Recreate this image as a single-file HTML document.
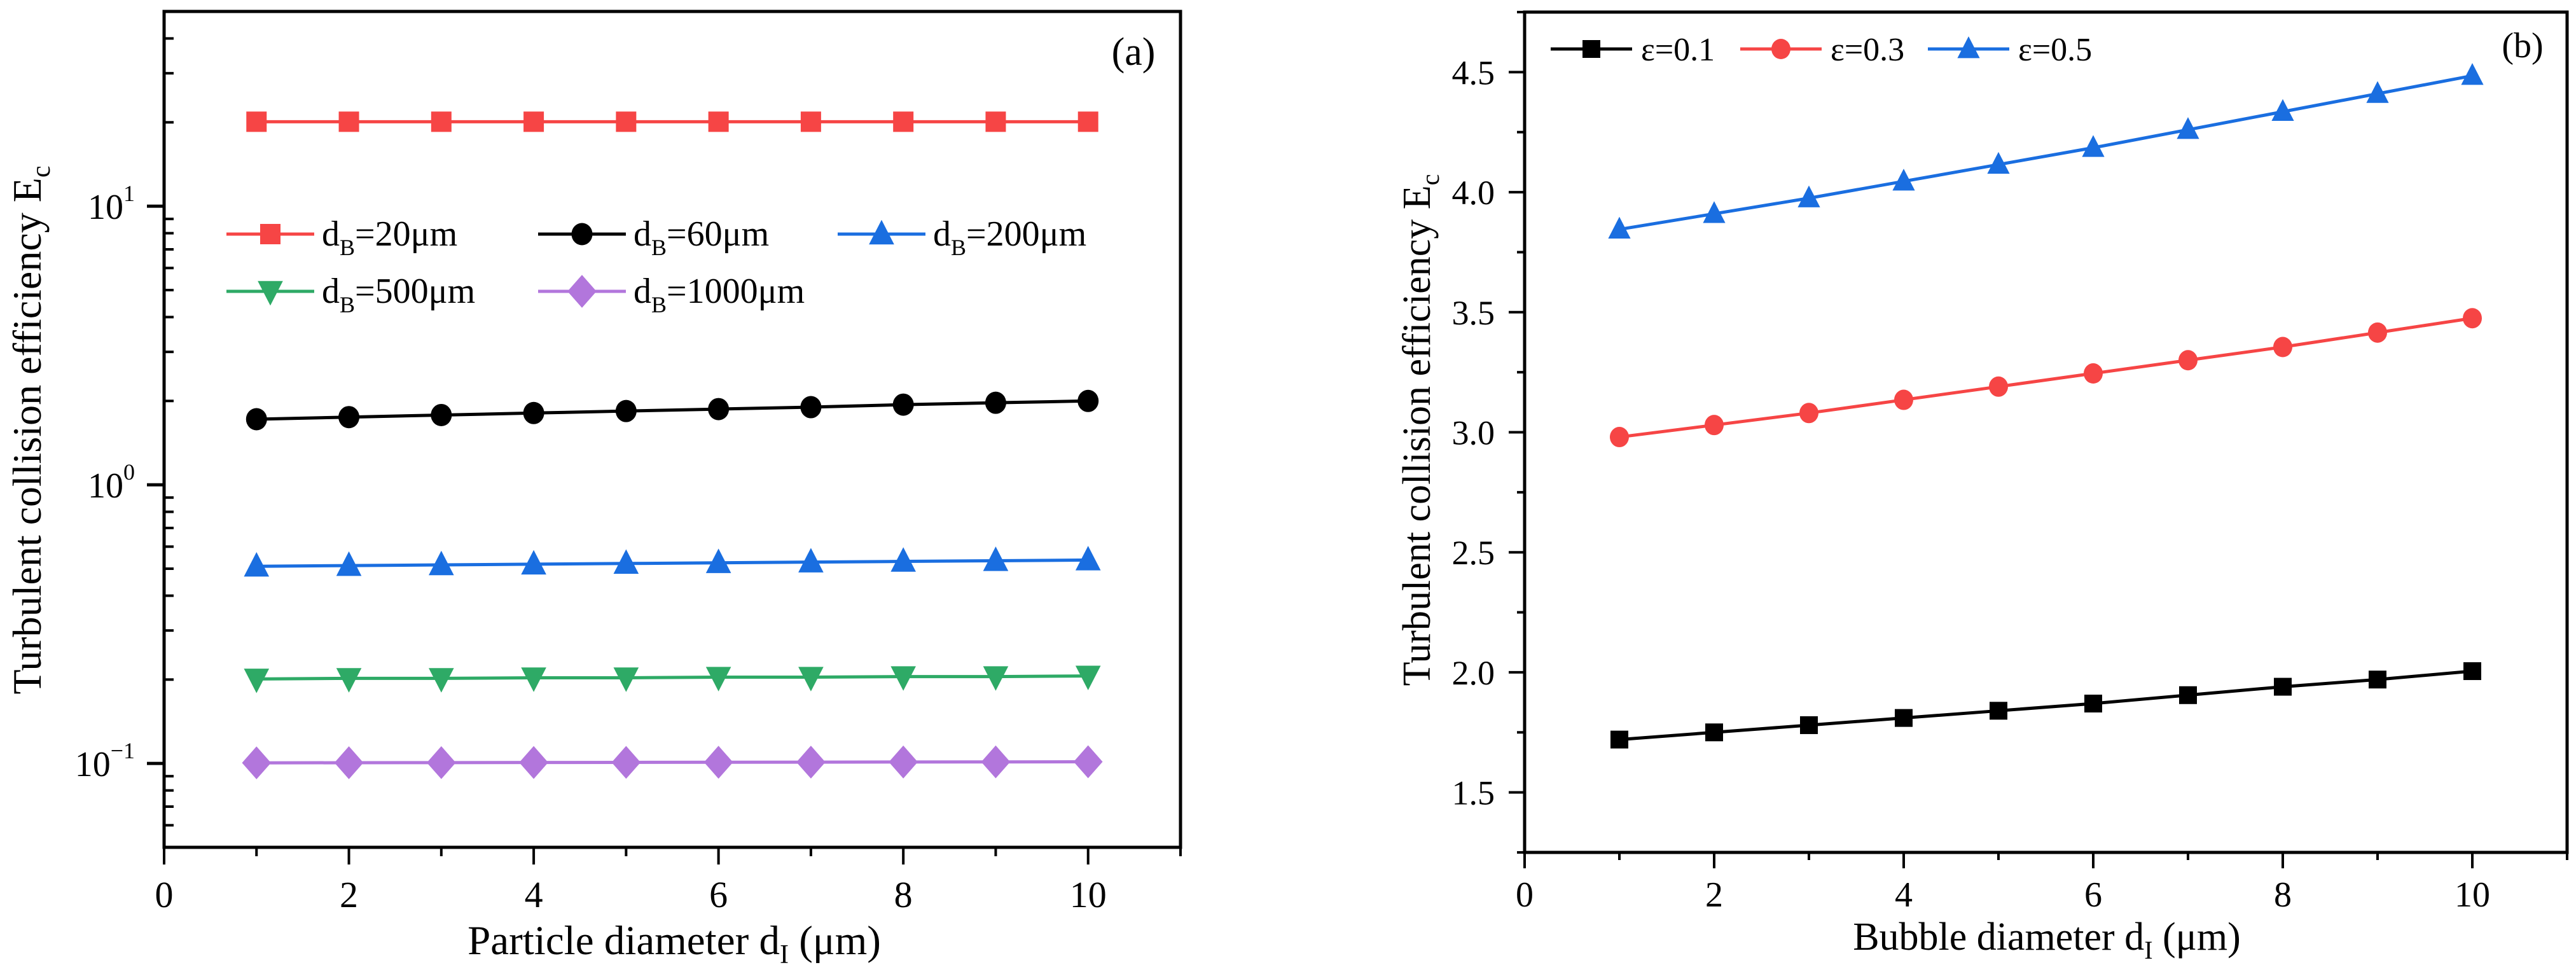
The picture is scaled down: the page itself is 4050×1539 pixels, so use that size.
<!DOCTYPE html>
<html><head><meta charset="utf-8"><style>
html,body{margin:0;padding:0;background:#fff;}
svg{display:block;font-family:"Liberation Serif","Times New Roman",serif;}
</style></head><body>
<svg id="fig" width="4050" height="1539" viewBox="0 0 4050 1539" xmlns="http://www.w3.org/2000/svg">
<rect x="0" y="0" width="4050" height="1539" fill="#fff"/>
</svg>
<script>
// ---------- Panel (a) data ----------
const xA = [1,2,3,4,5,6,7,8,9,10];
const aLabels = ["dB=20μm","dB=60μm","dB=200μm","dB=500μm","dB=1000μm"];
const aD20   = [20.1,20.1,20.1,20.1,20.1,20.1,20.1,20.1,20.1,20.1];
const aD60   = [1.72,1.75,1.78,1.81,1.84,1.87,1.90,1.94,1.97,2.00];
const aD200  = [0.510,0.513,0.516,0.519,0.522,0.525,0.528,0.531,0.534,0.537];
const aD500  = [0.201,0.202,0.202,0.203,0.203,0.204,0.204,0.205,0.205,0.206];
const aD1000 = [0.1005,0.1006,0.1007,0.1008,0.1009,0.1010,0.1011,0.1012,0.1013,0.1014];
const aXTicks = [0,2,4,6,8,10];
const aYExp = [-1,0,1];
// ---------- Panel (b) data ----------
const xB = [1,2,3,4,5,6,7,8,9,10];
const bLabels = ["ε=0.1","ε=0.3","ε=0.5"];
const bE01 = [1.72,1.75,1.78,1.81,1.84,1.87,1.905,1.94,1.97,2.005];
const bE03 = [2.98,3.03,3.08,3.135,3.19,3.245,3.30,3.355,3.415,3.475];
const bE05 = [3.845,3.91,3.975,4.045,4.115,4.185,4.26,4.335,4.41,4.485];
const bXTicks = [0,2,4,6,8,10];
const bYTicks = [1.5,2.0,2.5,3.0,3.5,4.0,4.5];

const NS="http://www.w3.org/2000/svg";
const svg=document.getElementById('fig');
function el(tag,attrs,parent){const e=document.createElementNS(NS,tag);for(const k in attrs)e.setAttribute(k,attrs[k]);(parent||svg).appendChild(e);return e;}

const RED="#f64545",BLK="#000",BLU="#1a6ee0",GRN="#2eaa66",PUR="#b276dc";

function marker(g,type,cx,cy,color,s){
  let m;
  if(type==='square') m=el('rect',{x:cx-s/2,y:cy-s/2,width:s,height:s,fill:color},g);
  else if(type==='circle') m=el('ellipse',{cx:cx,cy:cy,rx:s/2,ry:s/2+1,fill:color},g);
  else if(type==='up') m=el('polygon',{points:`${cx},${cy-s*0.62} ${cx-s*0.55},${cy+s*0.45} ${cx+s*0.55},${cy+s*0.45}`,fill:color},g);
  else if(type==='down') m=el('polygon',{points:`${cx},${cy+s*0.62} ${cx-s*0.55},${cy-s*0.45} ${cx+s*0.55},${cy-s*0.45}`,fill:color},g);
  else m=el('polygon',{points:`${cx},${cy-s*0.68} ${cx+s*0.6},${cy} ${cx},${cy+s*0.68} ${cx-s*0.6},${cy}`,fill:color},g);
  return m;
}

// ================= Panel A =================
const A={L:258,R:1856,T:18,B:1332,xmin:0,xmax:11,lmin:Math.log10(0.05),lmax:Math.log10(50)};
function axA(v){return A.L+(v-A.xmin)/(A.xmax-A.xmin)*(A.R-A.L);}
function ayA(v){return A.B-(Math.log10(v)-A.lmin)/(A.lmax-A.lmin)*(A.B-A.T);}

const gA=el('g',{});



function series(g,xs,ys,ax,ay,color,type,name,s){
  const sg=el('g',{},g);
  
  
  const pts=xs.map((x,i)=>ax(x)+','+ay(ys[i])).join(' ');
  el('polyline',{points:pts,fill:'none',stroke:color,'stroke-width':5},sg);
  xs.forEach((x,i)=>{const m=marker(sg,type,ax(x),ay(ys[i]),color,s);
    
    });
}
series(gA,xA,aD20,axA,ayA,RED,'square','series-db-20',32);
series(gA,xA,aD60,axA,ayA,BLK,'circle','series-db-60',33);
series(gA,xA,aD200,axA,ayA,BLU,'up','series-db-200',36);
series(gA,xA,aD500,axA,ayA,GRN,'down','series-db-500',36);
series(gA,xA,aD1000,axA,ayA,PUR,'diamond','series-db-1000',38);

const fA=el('rect',{x:A.L,y:A.T,width:A.R-A.L,height:A.B-A.T,fill:'none',stroke:'#000','stroke-width':5},gA);


for(let v=0;v<=11;v++){
  const major=v%2===0;
  el('line',{x1:axA(v),y1:A.B,x2:axA(v),y2:A.B+(major?27:14),stroke:'#000','stroke-width':4},gA);
}
aXTicks.forEach(v=>{const t=el('text',{x:axA(v),y:1426,'text-anchor':'middle','font-size':58},gA);t.textContent=v;
  
  });
for(let e=-2;e<=1;e++){
  for(let m=1;m<=9;m++){
    const v=m*Math.pow(10,e);
    if(v<0.05-1e-9||v>50+1e-9) continue;
    const y=ayA(v);
    if(m===1) el('line',{x1:A.L-27,y1:y,x2:A.L,y2:y,stroke:'#000','stroke-width':5},gA);
    else el('line',{x1:A.L,y1:y,x2:A.L+15,y2:y,stroke:'#000','stroke-width':4},gA);
  }
}
aYExp.forEach(e=>{const t=el('text',{x:212,y:ayA(Math.pow(10,e))+20,'text-anchor':'end','font-size':56},gA);
  t.innerHTML='10<tspan dy="-28" font-size="36">'+(e<0?'−'+(-e):e)+'</tspan>';
  
  });
let t=el('text',{x:1060,y:1500,'text-anchor':'middle','font-size':65},gA);
t.innerHTML='Particle diameter d<tspan dy="14" font-size="42">I</tspan><tspan dy="-14"> (μm)</tspan>';


t=el('text',{x:0,y:0,'text-anchor':'middle','font-size':64,transform:'translate(64,676) rotate(-90)'},gA);
t.innerHTML='Turbulent collision efficiency E<tspan dy="14" font-size="42">c</tspan>';


t=el('text',{x:1782,y:102,'text-anchor':'middle','font-size':62},gA);t.textContent='(a)';


const legA=el('g',{},gA);


const legAPos=[[356,368],[846,368],[1317,368],[356,458],[846,458]];
const legAStyle=[[RED,'square',32],[BLK,'circle',33],[BLU,'up',36],[GRN,'down',36],[PUR,'diamond',38]];
aLabels.forEach((lab,i)=>{
  const [x,y]=legAPos[i],[c,ty,s]=legAStyle[i];
  const g=el('g',{},legA);
  
  
  el('line',{x1:x,y1:y,x2:x+138,y2:y,stroke:c,'stroke-width':5},g);
  marker(g,ty,x+69,y,c,s);
  const tx=el('text',{x:x+150,y:y+18,'font-size':56},g);
  tx.innerHTML='d<tspan dy="15" font-size="36">B</tspan><tspan dy="-15">'+lab.slice(2)+'</tspan>';
});

// ================= Panel B =================
const B={L:2397,R:4036,T:19,B:1340,xmin:0,xmax:11,ymin:1.25,ymax:4.75};
function axB(v){return B.L+(v-B.xmin)/(B.xmax-B.xmin)*(B.R-B.L);}
function ayB(v){return B.B-(v-B.ymin)/(B.ymax-B.ymin)*(B.B-B.T);}
const gB=el('g',{});


series(gB,xB,bE01,axB,ayB,BLK,'square','series-eps-0-1',28);
series(gB,xB,bE03,axB,ayB,RED,'circle','series-eps-0-3',30);
series(gB,xB,bE05,axB,ayB,BLU,'up','series-eps-0-5',32);
const fB=el('rect',{x:B.L,y:B.T,width:B.R-B.L,height:B.B-B.T,fill:'none',stroke:'#000','stroke-width':5},gB);


for(let v=0;v<=11;v++){
  const major=v%2===0;
  el('line',{x1:axB(v),y1:B.B,x2:axB(v),y2:B.B+(major?25:12),stroke:'#000','stroke-width':4},gB);
}
bXTicks.forEach(v=>{const t=el('text',{x:axB(v),y:1425,'text-anchor':'middle','font-size':56},gB);t.textContent=v;
  
  });
for(let k=0;k<=14;k++){
  const v=1.25+k*0.25;const major=k%2===1;
  el('line',{x1:B.L-(major?25:12),y1:ayB(v),x2:B.L,y2:ayB(v),stroke:'#000','stroke-width':4},gB);
}
bYTicks.forEach(v=>{const t=el('text',{x:2350,y:ayB(v)+19,'text-anchor':'end','font-size':54},gB);t.textContent=v.toFixed(1);
  
  });
t=el('text',{x:3218,y:1493,'text-anchor':'middle','font-size':62},gB);
t.innerHTML='Bubble diameter d<tspan dy="14" font-size="40">I</tspan><tspan dy="-14"> (μm)</tspan>';


t=el('text',{x:0,y:0,'text-anchor':'middle','font-size':62,transform:'translate(2248,676) rotate(-90)'},gB);
t.innerHTML='Turbulent collision efficiency E<tspan dy="14" font-size="40">c</tspan>';


t=el('text',{x:3966,y:90,'text-anchor':'middle','font-size':56},gB);t.textContent='(b)';


const legB=el('g',{},gB);


const legBX=[2438,2736,3031];
const legBStyle=[[BLK,'square',28],[RED,'circle',30],[BLU,'up',32]];
bLabels.forEach((lab,i)=>{
  const x=legBX[i],y=77,[c,ty,s]=legBStyle[i];
  const g=el('g',{},legB);
  
  
  el('line',{x1:x,y1:y,x2:x+128,y2:y,stroke:c,'stroke-width':5},g);
  marker(g,ty,x+64,y,c,s);
  const tx=el('text',{x:x+142,y:y+18,'font-size':52},g);tx.textContent=lab;
});
</script>
</body></html>
